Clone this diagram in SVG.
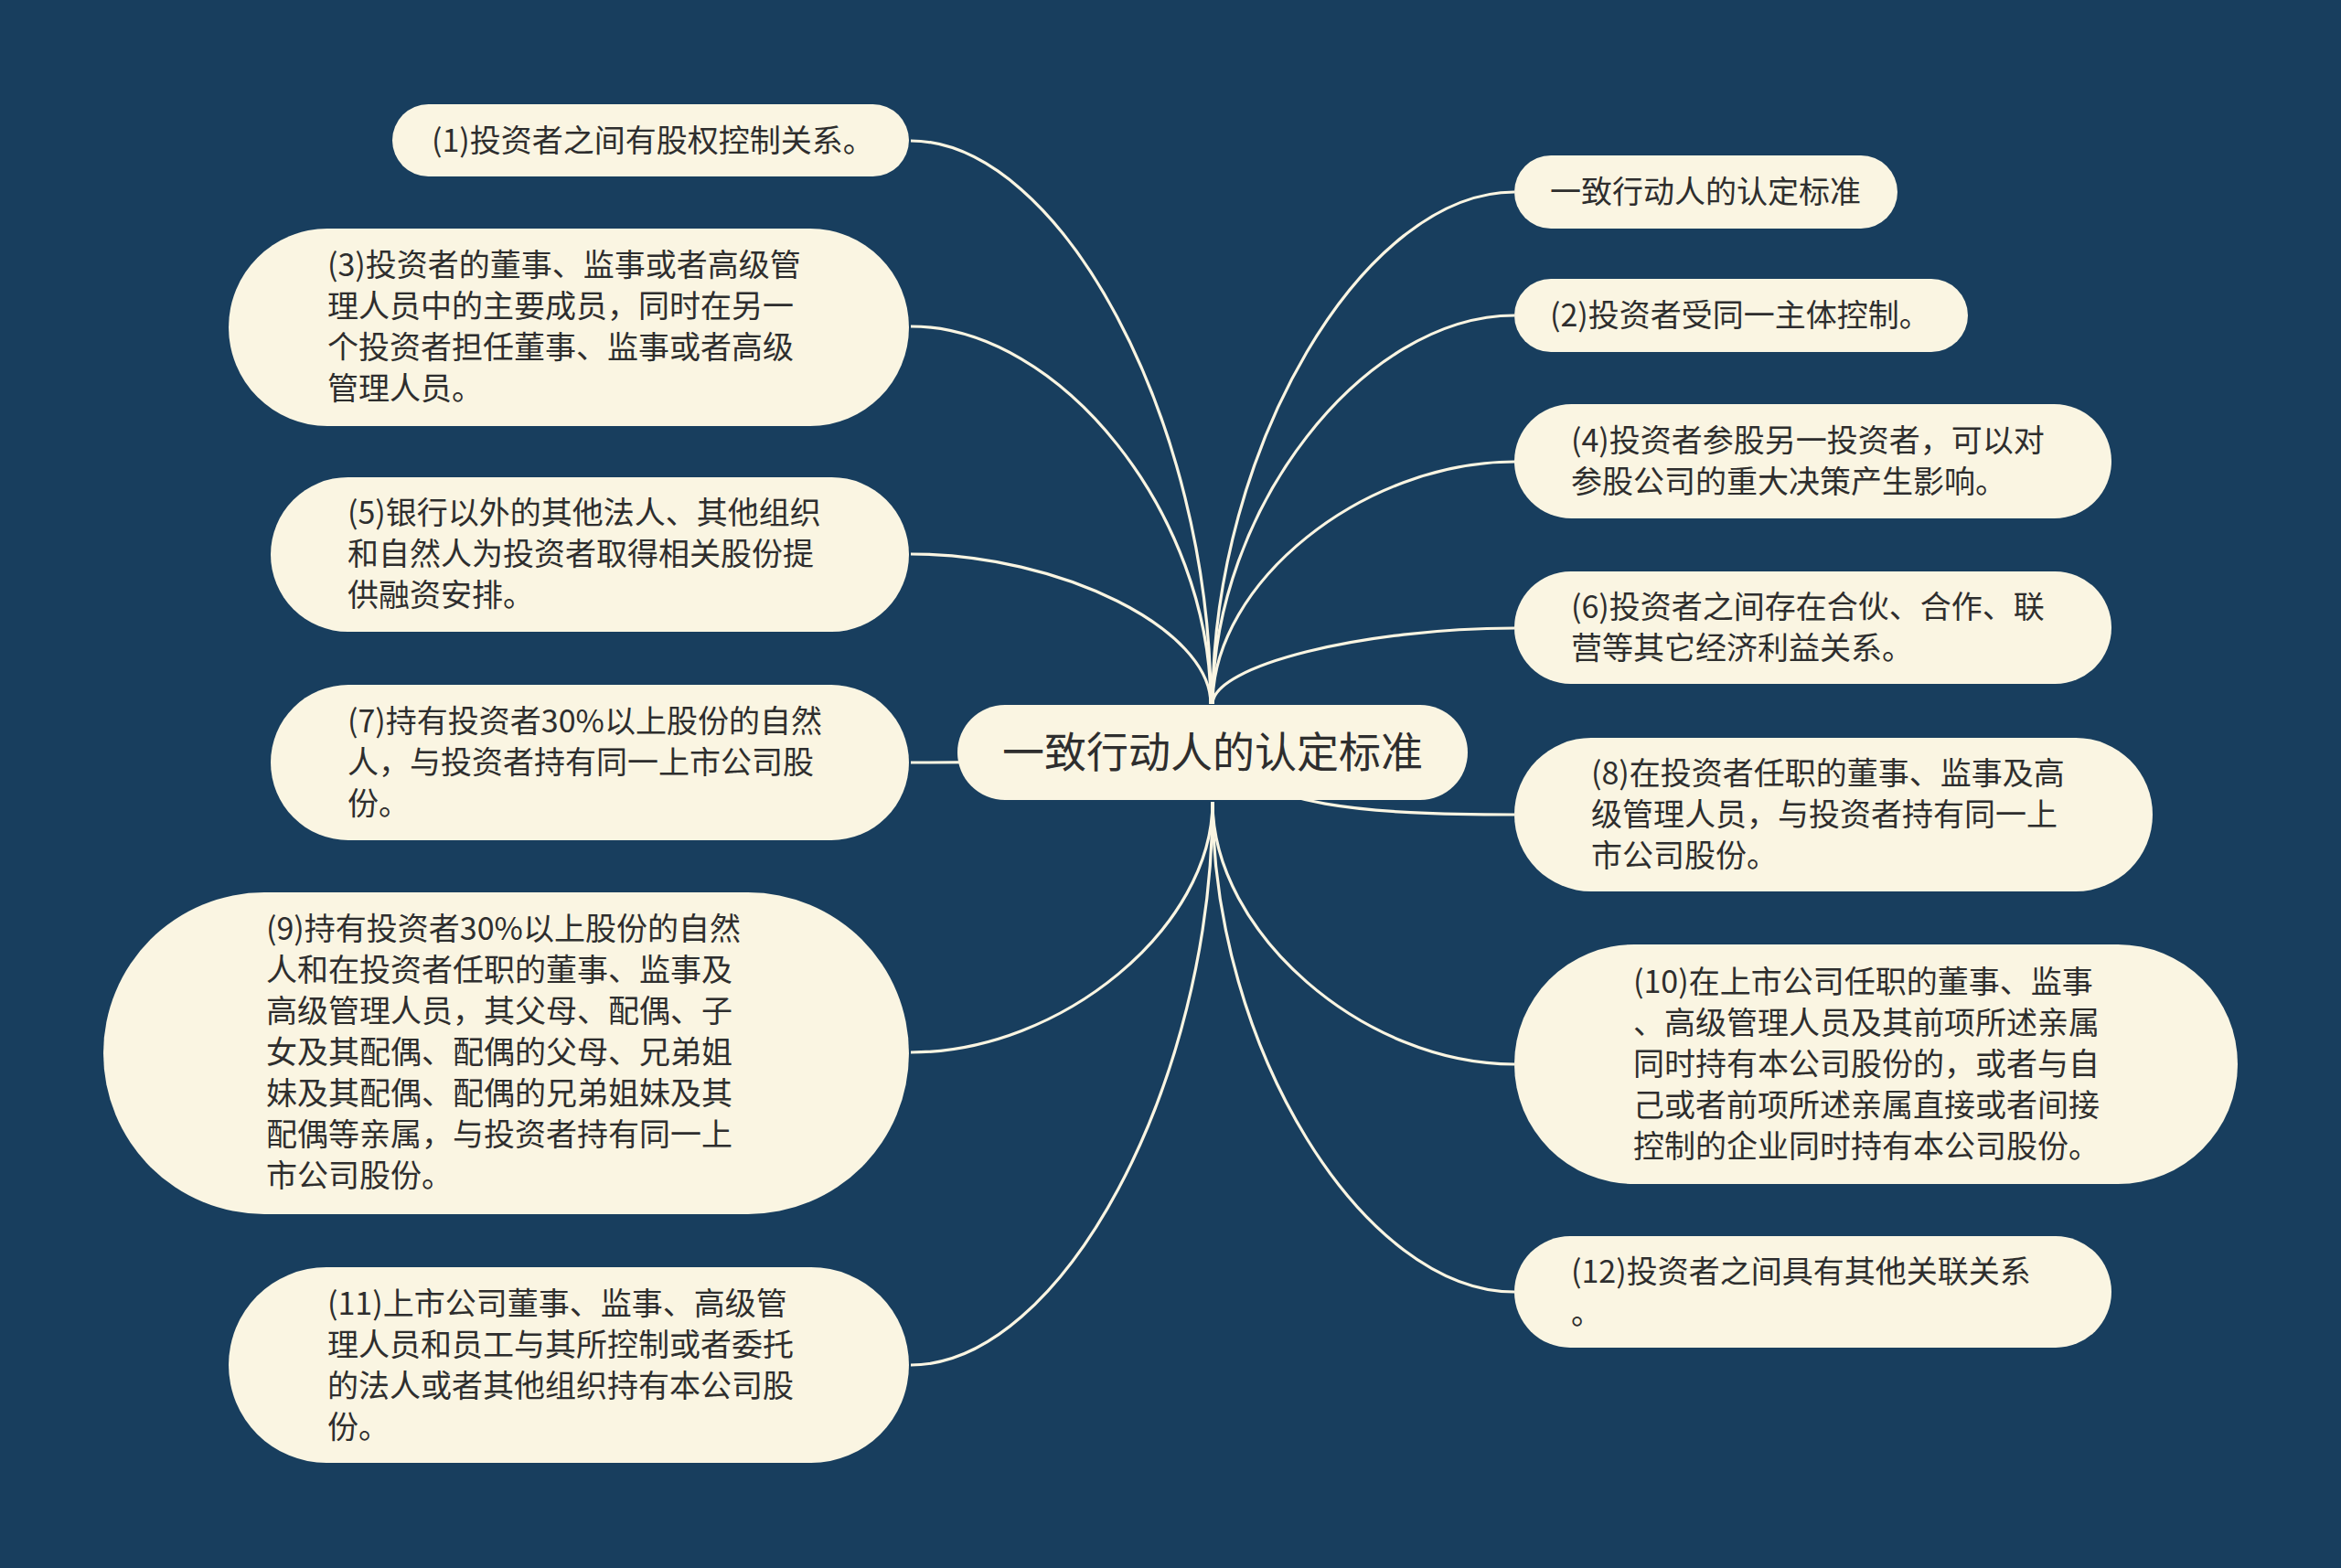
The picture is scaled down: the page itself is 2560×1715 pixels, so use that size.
<svg xmlns="http://www.w3.org/2000/svg" width="2560" height="1715" viewBox="0 0 2560 1715">
<style>
.bg{fill:#183e5e}
.box{fill:#faf5e2}
.t{font-family:"Noto Sans CJK SC","Noto Sans",sans-serif;font-size:34px;fill:#2e2e2e}
.tc{font-family:"Noto Sans CJK SC","Noto Sans",sans-serif;font-size:46px;fill:#2e2e2e;text-anchor:middle}
.ln{fill:none;stroke:#faf5e2;stroke-width:3.2}
</style>
<rect class="bg" x="0" y="0" width="2560" height="1715"/>
<g id="connectors">
<path class="ln" d="M996,154 C1160,154 1324,462 1324,770"/>
<path class="ln" d="M996,357 C1160,357 1324,563 1324,770"/>
<path class="ln" d="M996,606 C1160,606 1324,688 1324,770"/>
<path class="ln" d="M996,834 C1161,834 1326,828 1326,823"/>
<path class="ln" d="M996,1151 C1161,1151 1326,1014 1326,877"/>
<path class="ln" d="M996,1493 C1161,1493 1326,1185 1326,877"/>
<path class="ln" d="M1656,210 C1491,210 1326,490 1326,770"/>
<path class="ln" d="M1656,345 C1491,345 1326,557 1326,770"/>
<path class="ln" d="M1656,505 C1491,505 1326,637 1326,770"/>
<path class="ln" d="M1656,687 C1491,687 1326,728 1326,770"/>
<path class="ln" d="M1656,891 C1491,891 1380,882 1326,823"/>
<path class="ln" d="M1656,1164 C1491,1164 1326,1020 1326,877"/>
<path class="ln" d="M1656,1413 C1491,1413 1326,1145 1326,877"/>
</g>
<g id="center">
<rect class="box" x="1047" y="771" width="558" height="104" rx="52"/>
<text class="tc" x="1326" y="839">一致行动人的认定标准</text>
</g>
<g id="n1">
<rect class="box" x="429" y="114" width="565" height="79" rx="39.5"/>
<text class="t" x="472" y="166">(1)投资者之间有股权控制关系。</text>
</g>
<g id="n3">
<rect class="box" x="250" y="250" width="744" height="216" rx="108"/>
<text class="t" x="358" y="302">(3)投资者的董事、监事或者高级管</text>
<text class="t" x="358" y="347">理人员中的主要成员，同时在另一</text>
<text class="t" x="358" y="392">个投资者担任董事、监事或者高级</text>
<text class="t" x="358" y="437">管理人员。</text>
</g>
<g id="n5">
<rect class="box" x="296" y="522" width="698" height="169" rx="84.5"/>
<text class="t" x="380" y="573">(5)银行以外的其他法人、其他组织</text>
<text class="t" x="380" y="618">和自然人为投资者取得相关股份提</text>
<text class="t" x="380" y="663">供融资安排。</text>
</g>
<g id="n7">
<rect class="box" x="296" y="749" width="698" height="170" rx="85"/>
<text class="t" x="380" y="801">(7)持有投资者30%以上股份的自然</text>
<text class="t" x="380" y="846">人，与投资者持有同一上市公司股</text>
<text class="t" x="380" y="891">份。</text>
</g>
<g id="n9">
<rect class="box" x="113" y="976" width="881" height="352" rx="176"/>
<text class="t" x="291" y="1028">(9)持有投资者30%以上股份的自然</text>
<text class="t" x="291" y="1073">人和在投资者任职的董事、监事及</text>
<text class="t" x="291" y="1118">高级管理人员，其父母、配偶、子</text>
<text class="t" x="291" y="1163">女及其配偶、配偶的父母、兄弟姐</text>
<text class="t" x="291" y="1208">妹及其配偶、配偶的兄弟姐妹及其</text>
<text class="t" x="291" y="1253">配偶等亲属，与投资者持有同一上</text>
<text class="t" x="291" y="1298">市公司股份。</text>
</g>
<g id="n11">
<rect class="box" x="250" y="1386" width="744" height="214" rx="107"/>
<text class="t" x="358" y="1438">(11)上市公司董事、监事、高级管</text>
<text class="t" x="358" y="1483">理人员和员工与其所控制或者委托</text>
<text class="t" x="358" y="1528">的法人或者其他组织持有本公司股</text>
<text class="t" x="358" y="1573">份。</text>
</g>
<g id="r1">
<rect class="box" x="1656" y="170" width="419" height="80" rx="40"/>
<text class="t" x="1695" y="222">一致行动人的认定标准</text>
</g>
<g id="r2">
<rect class="box" x="1656" y="305" width="496" height="80" rx="40"/>
<text class="t" x="1695" y="357">(2)投资者受同一主体控制。</text>
</g>
<g id="r4">
<rect class="box" x="1656" y="442" width="653" height="125" rx="62.5"/>
<text class="t" x="1718" y="494">(4)投资者参股另一投资者，可以对</text>
<text class="t" x="1718" y="539">参股公司的重大决策产生影响。</text>
</g>
<g id="r6">
<rect class="box" x="1656" y="625" width="653" height="123" rx="61.5"/>
<text class="t" x="1718" y="676">(6)投资者之间存在合伙、合作、联</text>
<text class="t" x="1718" y="721">营等其它经济利益关系。</text>
</g>
<g id="r8">
<rect class="box" x="1656" y="807" width="698" height="168" rx="84"/>
<text class="t" x="1740" y="858">(8)在投资者任职的董事、监事及高</text>
<text class="t" x="1740" y="903">级管理人员，与投资者持有同一上</text>
<text class="t" x="1740" y="948">市公司股份。</text>
</g>
<g id="r10">
<rect class="box" x="1656" y="1033" width="791" height="262" rx="131"/>
<text class="t" x="1786" y="1086">(10)在上市公司任职的董事、监事</text>
<text class="t" x="1786" y="1131">、高级管理人员及其前项所述亲属</text>
<text class="t" x="1786" y="1176">同时持有本公司股份的，或者与自</text>
<text class="t" x="1786" y="1221">己或者前项所述亲属直接或者间接</text>
<text class="t" x="1786" y="1266">控制的企业同时持有本公司股份。</text>
</g>
<g id="r12">
<rect class="box" x="1656" y="1352" width="653" height="122" rx="61"/>
<text class="t" x="1718" y="1403">(12)投资者之间具有其他关联关系</text>
<text class="t" x="1718" y="1448">。</text>
</g>
</svg>
